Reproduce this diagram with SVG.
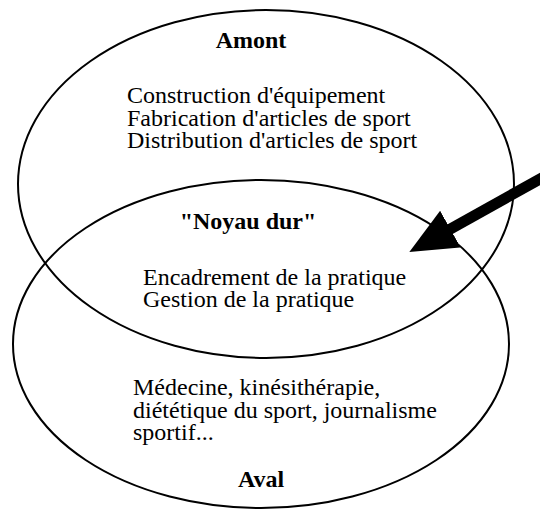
<svg xmlns="http://www.w3.org/2000/svg" width="540" height="509" viewBox="0 0 540 509">
<style>
.ell{fill:none;stroke:#000;stroke-width:2}
.t{font-family:'Liberation Serif','Times New Roman','DejaVu Serif',serif;font-size:24px;fill:#000}
.b{font-weight:bold}
</style>
<defs>
<marker id="head" markerUnits="userSpaceOnUse" markerWidth="50" markerHeight="44" refX="1" refY="21" orient="auto">
<path d="M0,0 L47,21 L0,42 Z" fill="#000"/>
</marker>
</defs>
<rect width="540" height="509" fill="#fff"/>
<g id="amont">
<ellipse class="ell" cx="266" cy="184" rx="248" ry="174"/>
<text class="t b" font-family="Liberation Serif, serif" x="251" y="48" text-anchor="middle">Amont</text>
<text class="t" font-family="Liberation Serif, serif" x="127" y="103">Construction d'équipement</text>
<text class="t" font-family="Liberation Serif, serif" x="127" y="126">Fabrication d'articles de sport</text>
<text class="t" font-family="Liberation Serif, serif" x="127" y="148">Distribution d'articles de sport</text>
</g>
<g id="aval">
<ellipse class="ell" cx="261" cy="344" rx="248" ry="164"/>
<text class="t" font-family="Liberation Serif, serif" x="133" y="395">Médecine, kinésithérapie,</text>
<text class="t" font-family="Liberation Serif, serif" x="133" y="418">diététique du sport, journalisme</text>
<text class="t" font-family="Liberation Serif, serif" x="133" y="440">sportif...</text>
<text class="t b" font-family="Liberation Serif, serif" x="261" y="487" text-anchor="middle">Aval</text>
</g>
<g id="noyau">
<text class="t b" font-family="Liberation Serif, serif" x="248" y="229" text-anchor="middle">"Noyau dur"</text>
<text class="t" font-family="Liberation Serif, serif" x="143" y="285">Encadrement de la pratique</text>
<text class="t" font-family="Liberation Serif, serif" x="143" y="307">Gestion de la pratique</text>
</g>
<g id="connectors">
<line x1="556" y1="170" x2="449.5" y2="229.5" stroke="#000" stroke-width="11" marker-end="url(#head)"/>
</g>
</svg>
